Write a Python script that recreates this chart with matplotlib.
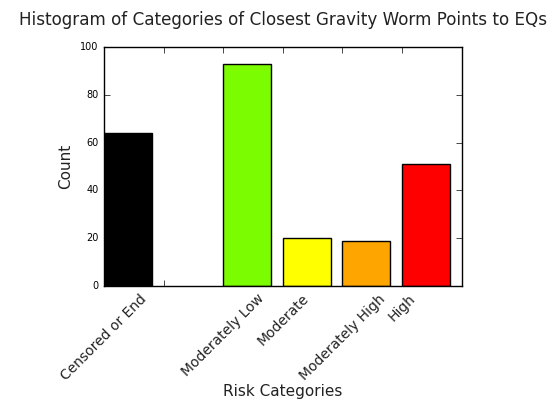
import matplotlib
matplotlib.use('Agg')
import matplotlib.pyplot as plt
import numpy as np

# 数据
categories = ['Censored or End', '', 'Moderately Low', 'Moderate', 'Moderately High', 'High']
counts = [64, 0, 93, 20, 19, 51]
bar_colors = ['black', 'white', '#7CFC00', 'yellow', 'orange', 'red']

plt.style.use('classic')
plt.rcParams['font.family'] = ['DejaVu Sans']

fig = plt.figure(figsize=(5.53, 4.03), dpi=100, facecolor='white')
ax = fig.add_axes([0.188, 0.290, 0.647, 0.594])

x = np.arange(len(categories))
edges = ['black' if c > 0 else 'none' for c in counts]
ax.bar(x, counts, width=0.8, align='edge', color=bar_colors, edgecolor=edges, linewidth=1)

ax.set_xlim(0, len(categories))
ax.set_ylim(0, 100)
ax.set_xticks(x)
ax.set_xticklabels(categories, rotation=45, ha='center', fontsize=10, color='#222222')
ax.tick_params(axis='y', labelsize=7)
ax.tick_params(axis='x', pad=4)

ax.set_xlabel('Risk Categories', fontsize=11, labelpad=1, color='#222222')
ax.set_ylabel('Count', fontsize=11, color='#222222')
ax.set_title('Histogram of Categories of Closest Gravity Worm Points to EQs',
             fontsize=12.1, y=1.06, color='#222222')

fig.savefig('out.png', dpi=100, facecolor='white')
